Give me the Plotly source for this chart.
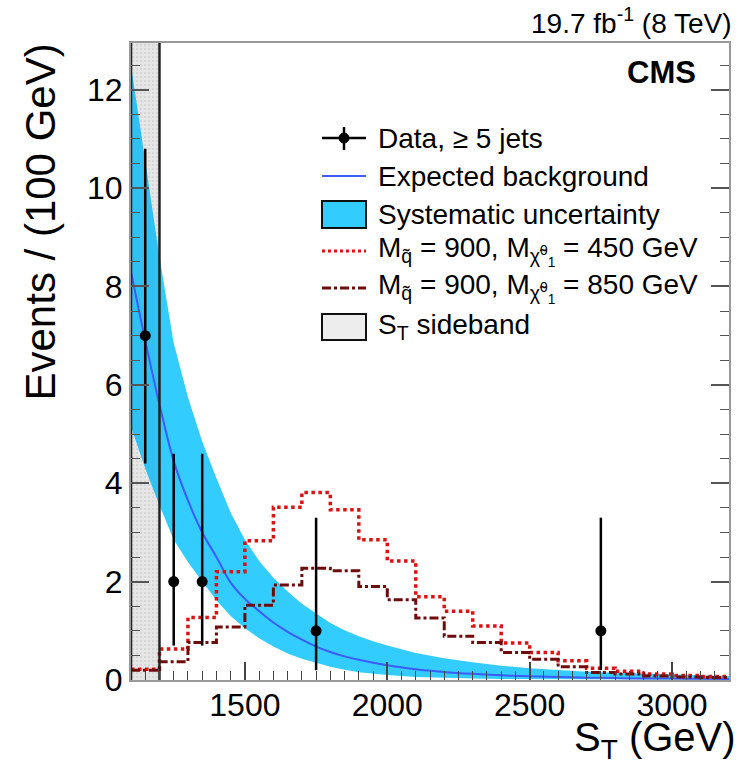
import plotly.graph_objects as go

# ---------------- data ----------------
BIN_EDGES = [1100, 1200, 1300, 1400, 1500, 1600, 1700, 1800, 1900, 2000, 2100,
             2200, 2300, 2400, 2500, 2600, 2700, 2800, 2900, 3000, 3100, 3200]

SIG_450 = [0.22, 0.63, 1.27, 2.20, 2.83, 3.51, 3.81, 3.46, 2.85, 2.42, 1.69,
           1.40, 1.10, 0.75, 0.56, 0.39, 0.24, 0.18, 0.12, 0.09, 0.07]
SIG_850 = [0.20, 0.37, 0.76, 1.08, 1.52, 1.93, 2.27, 2.22, 1.90, 1.63, 1.26,
           0.89, 0.76, 0.56, 0.42, 0.27, 0.15, 0.12, 0.08, 0.06, 0.05]

DATA_X = [1150, 1250, 1350, 1750, 2750]
DATA_Y = [7, 2, 2, 1, 1]
DATA_ERR_UP = [3.8, 2.6, 2.6, 2.3, 2.3]
DATA_ERR_DN = [2.6, 1.3, 1.3, 0.8, 0.8]

ST_GRID = [1100, 1150, 1200, 1250, 1300, 1350, 1400, 1450, 1500, 1550, 1600,
           1650, 1700, 1750, 1800, 1850, 1900, 1950, 2000, 2100, 2200, 2300,
           2400, 2500, 2600, 2700, 2800, 2900, 3000, 3100, 3200]
BKG = [8.3, 6.9, 5.6, 4.45, 3.65, 3.0, 2.5, 1.98, 1.65, 1.40, 1.17,
       0.98, 0.82, 0.68, 0.57, 0.48, 0.41, 0.35, 0.30, 0.22, 0.165, 0.125,
       0.095, 0.075, 0.06, 0.048, 0.04, 0.033, 0.028, 0.024, 0.02]
BAND_HI = [12.5, 10.5, 8.6, 6.85, 5.75, 4.85, 4.1, 3.4, 2.85, 2.42, 2.08,
           1.8, 1.55, 1.35, 1.16, 1.01, 0.89, 0.79, 0.70, 0.55, 0.44, 0.36,
           0.29, 0.24, 0.20, 0.17, 0.145, 0.125, 0.105, 0.09, 0.08]
BAND_LO = [5.15, 4.3, 3.55, 2.85, 2.4, 2.0, 1.62, 1.3, 1.05, 0.85, 0.68,
           0.54, 0.43, 0.35, 0.27, 0.21, 0.16, 0.13, 0.10, 0.06, 0.04, 0.03,
           0.02, 0.015, 0.012, 0.01, 0.008, 0.007, 0.006, 0.005, 0.005]

SIDEBAND = [1100, 1200]
X_RANGE = [1100, 3200]
Y_RANGE = [0, 12.95]

X_TICKS = [1500, 2000, 2500, 3000]
Y_TICKS = [0, 2, 4, 6, 8, 10, 12]

# ---------------- styles ----------------
FONT = "Liberation Sans, Arial, Helvetica, sans-serif"
C_BAND = "#33ccff"
C_BKG = "#3d5cff"
C_S450 = "#dd1111"
C_S850 = "#6e0c0c"

fig = go.Figure()

# sideband background
sx = [SIDEBAND[0], SIDEBAND[1], SIDEBAND[1], SIDEBAND[0], SIDEBAND[0]]
sy = [Y_RANGE[0], Y_RANGE[0], Y_RANGE[1], Y_RANGE[1], Y_RANGE[0]]
fig.add_trace(go.Scatter(x=sx, y=sy, mode="lines", fill="toself",
                         fillcolor="#f3f3f3", line=dict(width=0),
                         fillpattern=dict(shape=".", fgcolor="#d2d2d2", bgcolor="#f3f3f3",
                                          size=4, solidity=0.3),
                         hoverinfo="skip", showlegend=False))

# systematic band
fig.add_trace(go.Scatter(x=ST_GRID + ST_GRID[::-1], y=BAND_HI + BAND_LO[::-1],
                         mode="lines", fill="toself", fillcolor=C_BAND,
                         line=dict(width=0), hoverinfo="skip", showlegend=False))

# sideband tint over band
fig.add_trace(go.Scatter(x=sx, y=sy, mode="lines", fill="toself",
                         fillcolor="rgba(0,0,0,0.05)", line=dict(width=0),
                         hoverinfo="skip", showlegend=False))

# background curve
fig.add_trace(go.Scatter(x=ST_GRID, y=BKG, mode="lines", line=dict(color=C_BKG, width=2),
                         line_shape="spline", showlegend=False))

# signals (step histograms)
fig.add_trace(go.Scatter(x=BIN_EDGES, y=SIG_450 + [SIG_450[-1]], mode="lines",
                         line=dict(color=C_S450, width=3.5, dash="dot", shape="hv"),
                         showlegend=False))
fig.add_trace(go.Scatter(x=BIN_EDGES, y=SIG_850 + [SIG_850[-1]], mode="lines",
                         line=dict(color=C_S850, width=3, dash="dashdot", shape="hv"),
                         showlegend=False))

# sideband borders
for xb in SIDEBAND:
    fig.add_trace(go.Scatter(x=[xb, xb], y=Y_RANGE, mode="lines",
                             line=dict(color="#222222", width=2.5),
                             hoverinfo="skip", showlegend=False, cliponaxis=False))

# data
fig.add_trace(go.Scatter(x=DATA_X, y=DATA_Y, mode="markers",
                         marker=dict(color="black", size=11),
                         error_y=dict(type="data", array=DATA_ERR_UP, arrayminus=DATA_ERR_DN,
                                      color="black", thickness=2.5, width=0),
                         showlegend=False))

# ---------------- layout ----------------
L, R, T, B = 131, 15, 43, 87
W, H = 744, 767
PW, PH = W - L - R, H - T - B


def px(x):
    return (x - L) / PW


def py(y):
    return (T + PH - y) / PH


shapes = []
# legend symbols
sx0, sx1 = 322, 366
rows = [138, 176, 214, 251, 288, 326]
shapes.append(dict(type="line", xref="paper", yref="paper", x0=px(sx0), x1=px(sx1),
                   y0=py(rows[0]), y1=py(rows[0]), line=dict(color="black", width=2.5)))
shapes.append(dict(type="line", xref="paper", yref="paper", x0=px(344), x1=px(344),
                   y0=py(127), y1=py(150), line=dict(color="black", width=2.5)))
shapes.append(dict(type="circle", xref="paper", yref="paper", x0=px(339), x1=px(349),
                   y0=py(133), y1=py(143), fillcolor="black", line=dict(color="black", width=1)))
shapes.append(dict(type="line", xref="paper", yref="paper", x0=px(sx0), x1=px(sx1),
                   y0=py(rows[1]), y1=py(rows[1]), line=dict(color=C_BKG, width=2)))
shapes.append(dict(type="rect", xref="paper", yref="paper", x0=px(sx0), x1=px(sx1),
                   y0=py(201), y1=py(228), fillcolor=C_BAND, line=dict(color="#111111", width=2)))
shapes.append(dict(type="line", xref="paper", yref="paper", x0=px(sx0), x1=px(sx1),
                   y0=py(rows[3]), y1=py(rows[3]), line=dict(color=C_S450, width=3, dash="dot")))
shapes.append(dict(type="line", xref="paper", yref="paper", x0=px(sx0), x1=px(sx1),
                   y0=py(rows[4]), y1=py(rows[4]), line=dict(color=C_S850, width=3, dash="dashdot")))
shapes.append(dict(type="rect", xref="paper", yref="paper", x0=px(sx0), x1=px(sx1),
                   y0=py(314), y1=py(340), fillcolor="#ededed", line=dict(color="#111111", width=2)))

legend_text = [
    "Data, \u2265 5 jets",
    "Expected background",
    "Systematic uncertainty",
    "M<sub>q\u0303</sub> = 900, M<sub>\u03c7\u0303<sup>0</sup><sub>1</sub></sub> = 450 GeV",
    "M<sub>q\u0303</sub> = 900, M<sub>\u03c7\u0303<sup>0</sup><sub>1</sub></sub> = 850 GeV",
    "S<sub>T</sub> sideband",
]
annotations = []
for txt, ry in zip(legend_text, rows):
    annotations.append(dict(text=txt, xref="paper", yref="paper", x=px(376), y=py(ry),
                            xanchor="left", yanchor="middle", showarrow=False,
                            font=dict(family=FONT, size=28, color="black")))

annotations.append(dict(text="<b>CMS</b>", xref="paper", yref="paper", x=px(698), y=py(73),
                        xanchor="right", yanchor="middle", showarrow=False,
                        font=dict(family=FONT, size=31, color="black")))
annotations.append(dict(text="19.7 fb<sup>-1</sup> (8 TeV)", xref="paper", yref="paper",
                        x=px(734), y=py(21), xanchor="right", yanchor="middle", showarrow=False,
                        font=dict(family=FONT, size=28, color="black")))
annotations.append(dict(text="Events / (100 GeV)", xref="paper", yref="paper",
                        x=px(40), y=py(42), xanchor="center", yanchor="top", textangle=-90,
                        showarrow=False, font=dict(family=FONT, size=42, color="black")))
annotations.append(dict(text="S<sub>T</sub> (GeV)", xref="paper", yref="paper",
                        x=px(738), y=py(767), xanchor="right", yanchor="bottom",
                        showarrow=False, font=dict(family=FONT, size=40, color="black")))

fig.update_layout(
    width=W, height=H,
    margin=dict(l=L, r=R, t=T, b=B),
    paper_bgcolor="white", plot_bgcolor="white",
    showlegend=False,
    shapes=shapes,
    annotations=annotations,
    font=dict(family=FONT, color="black"),
)
fig.update_xaxes(range=X_RANGE, tickvals=X_TICKS, ticks="inside", ticklen=18, tickwidth=1.5,
                 tickcolor="#444444", showline=True, linecolor="#999999", linewidth=2,
                 mirror=True, showgrid=False, zeroline=False, ticklabelstandoff=-4,
                 tickfont=dict(family=FONT, size=32, color="black"),
                 minor=dict(dtick=50, tick0=1100, ticks="inside", ticklen=9, tickcolor="#444444",
                            tickwidth=1.2, showgrid=False))
fig.update_yaxes(range=Y_RANGE, tickvals=Y_TICKS, ticks="inside", ticklen=18, tickwidth=1.5,
                 tickcolor="#555555", showline=True, linecolor="#999999", linewidth=2,
                 mirror="ticks", showgrid=False, zeroline=False,
                 tickfont=dict(family=FONT, size=32, color="black"),
                 minor=dict(dtick=0.5, tick0=0, ticks="inside", ticklen=9, tickcolor="#555555",
                            tickwidth=1.2, showgrid=False))

fig.write_html("out.html")
